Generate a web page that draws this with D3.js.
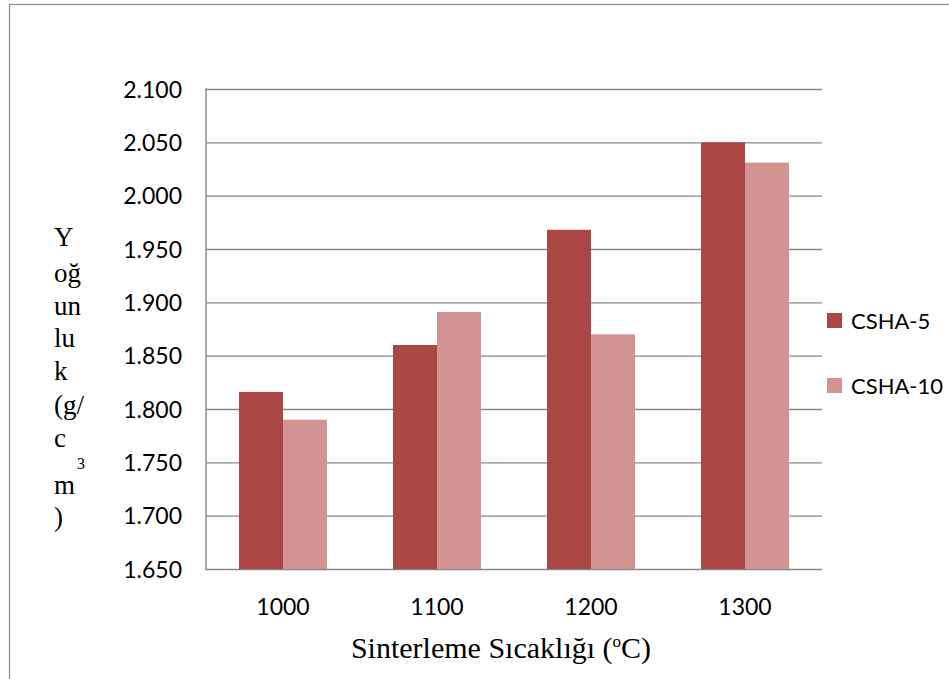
<!DOCTYPE html>
<html>
<head>
<meta charset="utf-8">
<script src="https://cdn.jsdelivr.net/npm/d3@7"></script>
<style>
  html, body { margin: 0; padding: 0; background: #fff; }
  svg { display: block; }
</style>
</head>
<body>
<svg id="chart" width="949" height="679"></svg>
<script>
// ---- data ----
const categories = ["1000", "1100", "1200", "1300"];
const seriesNames = ["CSHA-5", "CSHA-10"];
const csha5 = [1.816, 1.860, 1.968, 2.050];
const csha10 = [1.790, 1.891, 1.870, 2.031];
const yTicks = [1.65, 1.70, 1.75, 1.80, 1.85, 1.90, 1.95, 2.00, 2.05, 2.10];
const yTitleLines = ["Y", "oğ", "un", "lu", "k", "(g/", "c", "m", ")"];

const colors = ["#AA4643", "#D39392"];
const seriesValues = [csha5, csha10];

(function () {
const svg = d3.select("#chart");
const pLeft = 206, pRight = 822, pTop = 89, pBottom = 569;
const sansFont = "Lato, 'Open Sans', sans-serif";
const serifFont = "'Liberation Serif', 'Times New Roman', serif";

// outer frame
svg.append("rect")
  .attr("x", 9.5).attr("y", 4.5)
  .attr("width", 1000).attr("height", 800)
  .attr("fill", "#fff").attr("stroke", "#8c8c8c").attr("stroke-width", 1.2);

const y = d3.scaleLinear().domain([1.65, 2.10]).range([pBottom, pTop]);
const x0 = d3.scaleBand().domain(categories).range([pLeft, pRight])
  .paddingInner(66 / 154).paddingOuter(33 / 154);
const x1 = d3.scaleBand().domain(seriesNames).range([0, x0.bandwidth()]).padding(0);

// gridlines
const yAxis = d3.axisLeft(y).tickValues(yTicks).tickFormat(d3.format(".3f"))
  .tickSize(-(pRight - pLeft)).tickPadding(24);
const gy = svg.append("g").attr("transform", `translate(${pLeft},0)`).call(yAxis);
gy.select(".domain").remove();
gy.selectAll(".tick line").attr("stroke", "#878787").attr("stroke-width", 1.4);
gy.selectAll(".tick text")
  .attr("font-family", sansFont).attr("font-size", 23).attr("fill", "#000")
  .attr("dy", "0.36em");

// bars
const groups = svg.append("g").selectAll("g")
  .data(categories)
  .join("g")
  .attr("transform", d => `translate(${x0(d)},0)`);
groups.selectAll("rect")
  .data((d, i) => seriesNames.map((s, j) => ({ s, v: seriesValues[j][i], j })))
  .join("rect")
  .attr("x", d => x1(d.s))
  .attr("width", x1.bandwidth())
  .attr("y", d => y(d.v))
  .attr("height", d => y(1.65) - y(d.v))
  .attr("fill", d => colors[d.j]);

// left axis line
svg.append("line")
  .attr("x1", pLeft).attr("x2", pLeft).attr("y1", pTop - 0.7).attr("y2", pBottom + 0.7)
  .attr("stroke", "#878787").attr("stroke-width", 1.4);

// x axis labels
const xAxis = d3.axisBottom(x0).tickSize(0).tickPadding(30);
const gx = svg.append("g").attr("transform", `translate(0,${pBottom})`).call(xAxis);
gx.select(".domain").remove();
gx.selectAll(".tick text")
  .attr("font-family", sansFont).attr("font-size", 23).attr("fill", "#000");

// legend
const legend = svg.append("g").attr("transform", "translate(827,0)");
const legY = [321, 386];
seriesNames.forEach((s, i) => {
  legend.append("rect").attr("x", 0).attr("y", legY[i] - 8)
    .attr("width", 15).attr("height", 15).attr("fill", colors[i]);
  legend.append("text").attr("x", 24).attr("y", legY[i]).attr("dy", "0.36em")
    .attr("font-family", sansFont).attr("font-size", 22).attr("fill", "#000")
    .text(s);
});

// y title (stacked lines)
const yBase = [246, 282, 315, 347, 380, 414, 447, 494, 526];
const yt = svg.append("g");
yTitleLines.forEach((t, i) => {
  yt.append("text").attr("x", 54).attr("y", yBase[i])
    .attr("font-family", serifFont).attr("font-size", 27).attr("fill", "#000")
    .text(t);
});
yt.append("text").attr("x", 77).attr("y", 469)
  .attr("font-family", serifFont).attr("font-size", 16).attr("fill", "#000")
  .text("3");

// x title
const xt = svg.append("text").attr("x", 501).attr("y", 658)
  .attr("text-anchor", "middle")
  .attr("font-family", serifFont).attr("font-size", 30).attr("fill", "#000");
xt.append("tspan").text("Sinterleme Sıcaklığı (");
xt.append("tspan").attr("font-size", 17).attr("dy", -11).text("o");
xt.append("tspan").attr("dy", 11).text("C)");
})();
</script>
</body>
</html>
